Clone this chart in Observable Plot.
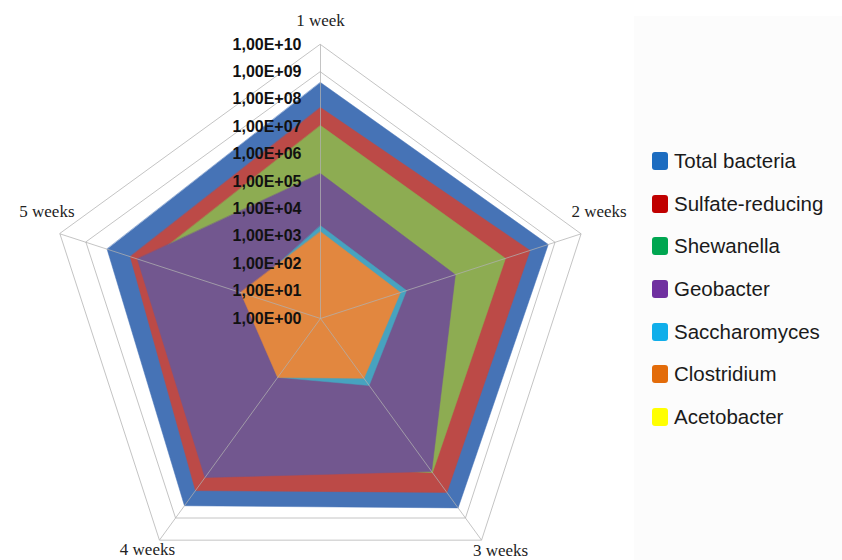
<!DOCTYPE html>
<html><head><meta charset="utf-8">
<script src="https://cdn.jsdelivr.net/npm/d3@7"></script>
<script src="https://cdn.jsdelivr.net/npm/@observablehq/plot@0.6"></script>
<style>
body{margin:0;background:#fff;}
#wrap{position:relative;width:842px;height:560px;overflow:hidden;background:#fff;}
#legendbg{position:absolute;left:634px;top:16px;width:208px;height:544px;background:#fcfcfc;}
#chart{position:absolute;left:0;top:0;}
#legend{position:absolute;left:652px;top:140px;font-family:"Liberation Sans",Arial,sans-serif;font-size:20.5px;color:#1a1a1a;}
.item{height:42.6px;display:flex;align-items:center;}
.sw{width:16px;height:18px;border-radius:3px;margin-right:6px;flex:none;}
</style></head><body>
<div id="wrap"><div id="legendbg"></div><div id="chart"></div><div id="legend"></div></div>
<script>
// ---- data ----
const categories = ["1 week", "2 weeks", "3 weeks", "4 weeks", "5 weeks"];
const seriesNames = ["Total bacteria", "Sulfate-reducing", "Shewanella", "Geobacter", "Saccharomyces", "Clostridium", "Acetobacter"];
const totalBacteria   = [4.1e8, 5.5e8, 3.5e8, 2.8e8, 1.55e8];
const sulfateReducing = [5.0e7, 1.1e8, 7.0e7, 5.8e7, 2.0e7];
const shewanella      = [1.1e7, 1.26e7, 9.0e6, 3.0e6, 4.6e6];
const geobacter       = [1.95e5, 1.5e5, 8.0e6, 1.5e7, 1.07e7];
const saccharomyces   = [2450, 2000, 1050, 450, 800];
const clostridium     = [1480, 1170, 500, 460, 1170];
const acetobacter     = [1, 1, 1, 1, 1];
const tickExponents   = [0, 1, 2, 3, 4, 5, 6, 7, 8, 9, 10];
const fillColors   = ["#4673B6", "#BC4A47", "#8DAC52", "#72578F", "#47A3BF", "#E2873F", "#F2F200"];
const legendColors = ["#1C6CC0", "#C00000", "#00A651", "#7030A0", "#10AEEA", "#E36C0A", "#FFFF00"];

const seriesValues = [totalBacteria, sulfateReducing, shewanella, geobacter, saccharomyces, clostridium, acetobacter];

// ---- geometry helpers (polar -> cartesian in "decades") ----
const W = 842, H = 560, cx = 320, cy = 318, unit = 27.4;
const n = categories.length;
const ang = i => Math.PI / 2 - 2 * Math.PI * i / n;
const px = (r, i) => r * Math.cos(ang(i));
const py = (r, i) => r * Math.sin(ang(i));

const rows = seriesNames.map((s, k) => categories.map((c, i) => ({series: s, k, i, value: seriesValues[k][i]})));
const rings = d3.range(1, 11).map(r => categories.map((c, i) => ({r, i})));
const spokes = categories.map((c, i) => ({i}));

const labelOffsets = [[0, -24], [18, -22], [19, 10], [-12, 9], [-13, -22]];

const marks = [];
// grid rings (behind)
rings.forEach(ring => marks.push(Plot.line(ring, {
  x: d => px(d.r, d.i), y: d => py(d.r, d.i), curve: "linear-closed", stroke: "#c4c4c4", strokeWidth: 1
})));
// filled series
rows.forEach((data, k) => marks.push(Plot.line(data, {
  x: d => px(Math.log10(d.value), d.i), y: d => py(Math.log10(d.value), d.i),
  curve: "linear-closed", fill: fillColors[k], stroke: fillColors[k], strokeWidth: 0.5
})));
// spokes over fills
marks.push(Plot.link(spokes, {
  x1: 0, y1: 0, x2: d => px(10, d.i), y2: d => py(10, d.i), stroke: "#b0b0b0", strokeOpacity: 0.75, strokeWidth: 1
}));
// tick labels
marks.push(Plot.text(tickExponents, {
  x: 0, y: d => d, text: d => "1,00E+" + String(d).padStart(2, "0"),
  textAnchor: "end", dx: -19, fontWeight: "bold", fontSize: 16,
  fontFamily: "'Liberation Sans Narrow', 'Liberation Sans', Arial, sans-serif", fill: "#111"
}));
// category labels
categories.forEach((c, i) => marks.push(Plot.text([c], {
  x: () => px(10, i), y: () => py(10, i), text: d => d,
  dx: labelOffsets[i][0], dy: labelOffsets[i][1],
  fontSize: 17, fontFamily: "'Liberation Serif', 'Times New Roman', serif", fill: "#222"
})));

const chart = Plot.plot({
  width: W, height: H, margin: 0,
  x: {domain: [-cx / unit, (W - cx) / unit], range: [0, W], axis: null},
  y: {domain: [-(H - cy) / unit, cy / unit], range: [H, 0], axis: null},
  style: {background: "transparent", overflow: "visible"},
  marks
});
document.getElementById("chart").appendChild(chart);

// legend
const legend = document.getElementById("legend");
seriesNames.forEach((s, k) => {
  const item = document.createElement("div");
  item.className = "item";
  const sw = document.createElement("span");
  sw.className = "sw"; sw.style.background = legendColors[k];
  const t = document.createElement("span"); t.textContent = s;
  item.appendChild(sw); item.appendChild(t);
  legend.appendChild(item);
});
</script>
</body></html>
